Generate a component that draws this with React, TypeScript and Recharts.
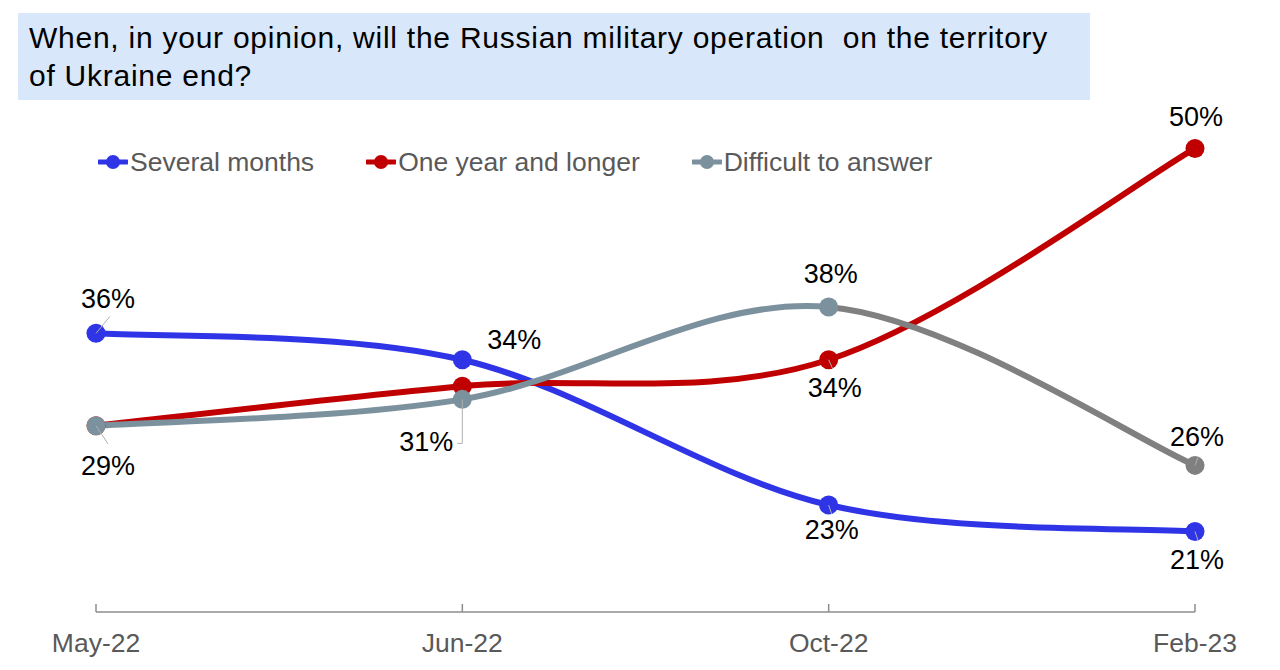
import React from "react";
import { LineChart, Line, XAxis, YAxis, LabelList } from "recharts";

// Survey waves
const waves = ["May-22", "Jun-22", "Oct-22", "Feb-23"];

// Share of respondents, %
const severalMonths = [36, 34, 23, 21];
const oneYearAndLonger = [29, 32, 34, 50];
const difficultToAnswer = [29, 31, 38, 26];

const seriesNames = ["Several months", "One year and longer", "Difficult to answer"];

const TITLE_LINES = [
  "When, in your opinion, will the Russian military operation\u00a0 on the territory",
  "of Ukraine end?",
];

const BLUE = "#2f35e6";
const RED = "#c00000";
const SLATE = "#7b919d";
const GREY = "#808080";
const FONT = "'Liberation Sans', Arial, sans-serif";

const data = waves.map((wave, i) => ({
  wave,
  several: severalMonths[i],
  longer: oneYearAndLonger[i],
  difficult: difficultToAnswer[i],
}));

// Smooth line in the style of office charts: cubic Béziers whose control
// points follow the Catmull-Rom tangents (neighbour difference / 6).
function smoothCurve(context: any) {
  let pts: [number, number][] = [];
  return {
    areaStart() {},
    areaEnd() {},
    lineStart() {
      pts = [];
    },
    lineEnd() {
      const n = pts.length;
      if (!n) return;
      context.moveTo(pts[0][0], pts[0][1]);
      for (let i = 0; i < n - 1; i++) {
        const p0 = pts[Math.max(i - 1, 0)];
        const p1 = pts[i];
        const p2 = pts[i + 1];
        const p3 = pts[Math.min(i + 2, n - 1)];
        context.bezierCurveTo(
          p1[0] + (p2[0] - p0[0]) / 6,
          p1[1] + (p2[1] - p0[1]) / 6,
          p2[0] - (p3[0] - p1[0]) / 6,
          p2[1] - (p3[1] - p1[1]) / 6,
          p2[0],
          p2[1]
        );
      }
    },
    point(x: number, y: number) {
      pts.push([+x, +y]);
    },
  };
}

type Placement = { dx: number; dy: number; leader?: [number, number][] } | null;

// Label placement relative to each marker, per wave
const severalLabels: Placement[] = [
  { dx: 12, dy: -34, leader: [[0, 0], [14, -17]] },
  { dx: 52, dy: -20 },
  { dx: 3, dy: 25, leader: [[0, 0], [3, 9]] },
  { dx: 2, dy: 29, leader: [[0, 0], [3, 9]] },
];
const longerLabels: Placement[] = [
  null,
  null,
  { dx: 6, dy: 28, leader: [[0, 0], [4, 9]] },
  { dx: 1, dy: -31 },
];
const difficultLabels: Placement[] = [
  { dx: 12, dy: 40, leader: [[0, 0], [12, 18]] },
  { dx: -36, dy: 43, leader: [[0, 0], [0, 44], [-5, 44]] },
  { dx: 2, dy: -33 },
  { dx: 2, dy: -28, leader: [[0, 0], [3, -8]] },
];

const makeLabel = (placements: Placement[]) => (props: any) => {
  const { x, y, value, index } = props;
  const p = placements[index];
  if (!p || value == null) return null;
  return (
    <g>
      {p.leader && (
        <polyline
          points={p.leader.map(([a, b]) => `${x + a},${y + b}`).join(" ")}
          fill="none"
          stroke="#b0b0b0"
          strokeWidth={1}
        />
      )}
      <text
        x={x + p.dx}
        y={y + p.dy}
        textAnchor="middle"
        dominantBaseline="central"
        fontFamily={FONT}
        fontSize={27}
        fill="#000"
      >
        {`${value}%`}
      </text>
    </g>
  );
};

const makeDot = (colorAt: (i: number) => string) => (props: any) => {
  const { cx, cy, index } = props;
  if (cx == null || cy == null) return <g key={index} />;
  return <circle key={index} cx={cx} cy={cy} r={9.5} fill={colorAt(index)} />;
};

const AxisTick = (props: any) => {
  const { x, y, payload } = props;
  return (
    <g>
      <line x1={x} x2={x} y1={y - 8} y2={y} stroke="#8c8c8c" strokeWidth={1.5} />
      <text
        x={x}
        y={y + 31}
        textAnchor="middle"
        dominantBaseline="central"
        fontFamily={FONT}
        fontSize={26.5}
        fill="#595959"
      >
        {payload.value}
      </text>
    </g>
  );
};

const legendColors = [BLUE, RED, SLATE];

const lastIdx = waves.length - 1;
// the final stretch of "Difficult to answer" is drawn in neutral grey
const splitOffset = (lastIdx - 1) / lastIdx;

export default function App() {
  return (
    <div
      style={{
        position: "absolute",
        left: 0,
        top: 0,
        width: 1280,
        height: 670,
        background: "#fff",
        fontFamily: FONT,
      }}
    >
      <div
        style={{
          position: "absolute",
          left: 18,
          top: 13,
          width: 1072,
          height: 87,
          background: "#d9e7fb",
        }}
      />
      <div
        style={{
          position: "absolute",
          left: 29,
          top: 19,
          fontSize: 30,
          letterSpacing: 0.75,
          lineHeight: "38.4px",
          color: "#000",
          whiteSpace: "pre",
        }}
      >
        {TITLE_LINES.map((line) => (
          <div key={line}>{line}</div>
        ))}
      </div>

      <div
        style={{
          position: "absolute",
          left: 98,
          top: 146,
          display: "flex",
          gap: 52,
          alignItems: "center",
          height: 32,
        }}
      >
        {seriesNames.map((name, i) => (
          <div key={name} style={{ display: "flex", alignItems: "center" }}>
            <svg width={30} height={20} style={{ marginRight: 2 }}>
              <line x1={1} x2={29} y1={10} y2={10} stroke={legendColors[i]} strokeWidth={5} strokeLinecap="round" />
              <circle cx={15} cy={10} r={7} fill={legendColors[i]} />
            </svg>
            <span style={{ fontSize: 26.5, color: "#595959" }}>{name}</span>
          </div>
        ))}
      </div>

      <div style={{ position: "absolute", left: 0, top: 0 }}>
        <LineChart
          width={1280}
          height={670}
          data={data}
          margin={{ top: 124, right: 85, bottom: 8, left: 96 }}
        >
          <defs>
            <linearGradient id="difficultStroke" x1="0" y1="0" x2="1" y2="0">
              <stop offset={0} stopColor={SLATE} />
              <stop offset={splitOffset} stopColor={SLATE} />
              <stop offset={splitOffset} stopColor={GREY} />
              <stop offset={1} stopColor={GREY} />
            </linearGradient>
          </defs>
          <XAxis
            dataKey="wave"
            height={50}
            axisLine={{ stroke: "#8c8c8c", strokeWidth: 1.5 }}
            tickLine={false}
            tickSize={0}
            tickMargin={0}
            tick={<AxisTick />}
            interval={0}
          />
          <YAxis hide domain={[14.9, 51.85]} />
          <Line
            dataKey="several"
            type={smoothCurve as any}
            stroke={BLUE}
            strokeWidth={6}
            dot={makeDot(() => BLUE)}
            activeDot={false}
            isAnimationActive={false}
          >
            <LabelList dataKey="several" content={makeLabel(severalLabels)} />
          </Line>
          <Line
            dataKey="longer"
            type={smoothCurve as any}
            stroke={RED}
            strokeWidth={6}
            dot={makeDot(() => RED)}
            activeDot={false}
            isAnimationActive={false}
          >
            <LabelList dataKey="longer" content={makeLabel(longerLabels)} />
          </Line>
          <Line
            dataKey="difficult"
            type={smoothCurve as any}
            stroke="url(#difficultStroke)"
            strokeWidth={6}
            dot={makeDot((i) => (i === lastIdx ? GREY : SLATE))}
            activeDot={false}
            isAnimationActive={false}
          >
            <LabelList dataKey="difficult" content={makeLabel(difficultLabels)} />
          </Line>
        </LineChart>
      </div>
    </div>
  );
}
